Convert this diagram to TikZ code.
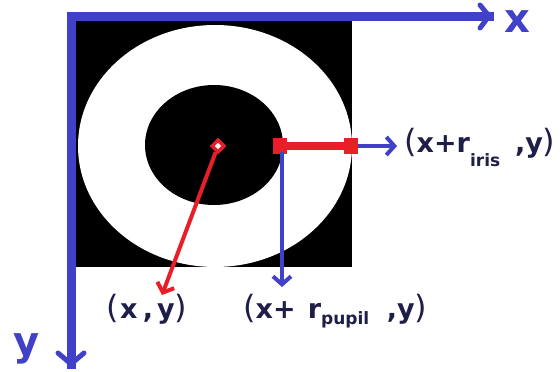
\documentclass[tikz,border=0pt]{standalone}
\usepackage{fontspec}
\setmainfont{DejaVu Sans}
\usetikzlibrary{arrows.meta,shapes.geometric}
\definecolor{axisblue}{RGB}{64,64,200}
\definecolor{markred}{RGB}{232,30,40}
\definecolor{textnavy}{RGB}{30,30,72}
\newcommand{\bigpar}[1]{{\fontsize{32}{34}\selectfont\mdseries #1}}
\tikzset{
  axis/.style={draw=axisblue,line width=9pt},
  barb/.style={draw=axisblue,line width=5pt,line cap=round,line join=round},
  bluearrow/.style={draw=axisblue,line width=4pt,-{Straight Barb[length=8pt,width=18pt,line width=4pt]}},
  redarrow/.style={draw=markred,line width=4pt,-{Straight Barb[length=8pt,width=18pt,line width=4pt]}},
  lbl/.style={text=textnavy,font=\fontsize{27}{30}\selectfont\bfseries,inner sep=0pt,anchor=base west},
  axlbl/.style={text=axisblue,font=\fontsize{40}{44}\selectfont\bfseries,inner sep=0pt,anchor=base},
  endsq/.style={fill=markred,draw=none,minimum width=14pt,minimum height=16pt,inner sep=0pt}
}
\begin{document}
\begin{tikzpicture}[x=1pt,y=-1pt]
\useasboundingbox (0,0) rectangle (560,372);
% image
\fill[black] (76,21) rectangle (352,267);
\begin{scope}
\clip (76,21) rectangle (352,267);
\fill[white] (215,146) ellipse [x radius=137,y radius=121];
\end{scope}
\fill[black] (214,145) ellipse [x radius=69,y radius=60];
% axes
\coordinate (O) at (71,16);
\coordinate (xe) at (489,16);
\coordinate (ye) at (71,364);
\draw[axis,line cap=rect] (xe) -- (O) -- (ye);
\draw[barb] (480,5) -- (xe) -- (480,28);
\draw[barb] (58,353) -- (ye) -- (84,353);
\node[axlbl] (xl) at (517,32) {x};
\node[axlbl] (yl) at (27,355) {y};
% centre marker and red arrow
\node[diamond,draw=markred,fill=white,line width=3.5pt,minimum width=13pt,minimum height=13pt,inner sep=0pt] (c) at (218,146) {};
\coordinate (cxy) at (162,295);
\draw[redarrow] (c) -- (cxy);
% red bar
\node[endsq] (sq1) at (280,146) {};
\node[endsq] (sq2) at (351,146) {};
\draw[draw=markred,line width=8pt] (sq1.center) -- (sq2.center);
% blue arrows
\coordinate (ri) at (397,146);
\coordinate (rp) at (282,287);
\draw[bluearrow] (sq2.east) -- (ri);
\draw[bluearrow] (282,152) -- (rp);
% labels
\node[lbl] (t1) at (404,152) {\bigpar{(}x+r\raisebox{-14pt}{\fontsize{17}{18}\selectfont iris}\hspace{0.55em},y\bigpar{)}};
\node[lbl] (t2) at (106,318) {\bigpar{(}\hspace{0.05em}x\hspace{0.2em},\hspace{0.15em}y\bigpar{)}};
\node[lbl] (t3) at (243,318) {\bigpar{(}x+\hspace{0.1em} r\raisebox{-6pt}{\fontsize{17}{18}\selectfont pupil}\hspace{0.65em},y\bigpar{)}};
\end{tikzpicture}
\end{document}
